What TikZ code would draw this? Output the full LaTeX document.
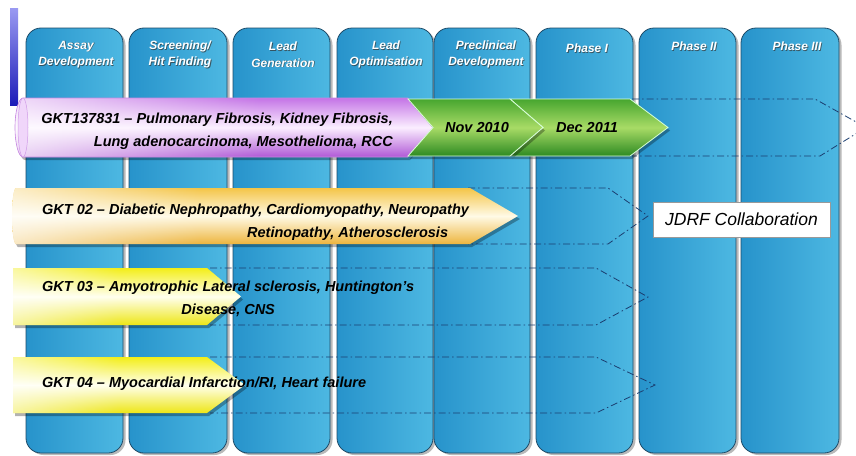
\documentclass[tikz,border=0pt]{standalone}
\usepackage{fontspec}
\setmainfont{Liberation Sans}
\usetikzlibrary{fadings}
\definecolor{colL}{HTML}{2793CB}
\definecolor{colR}{HTML}{4DB8E2}
\definecolor{colEdge}{HTML}{1E4B68}
\definecolor{purTop}{HTML}{C474E6}
\definecolor{purMid}{HTML}{FBEEFF}
\definecolor{purBot}{HTML}{B058D6}
\definecolor{grTop}{HTML}{47A62F}
\definecolor{grMid}{HTML}{A8DB66}
\definecolor{grBot}{HTML}{2D8A22}
\definecolor{orTop}{HTML}{F4C548}
\definecolor{orMid}{HTML}{FFFAE6}
\definecolor{orBot}{HTML}{EDB53E}
\definecolor{ylTop}{HTML}{F3EE18}
\definecolor{ylMid}{HTML}{FFFFEE}
\definecolor{ylBot}{HTML}{EDE616}
\definecolor{dashc}{HTML}{1B3E70}
\definecolor{barTop}{HTML}{9A9AF2}
\definecolor{barBot}{HTML}{1C1CB8}
\tikzfading[name=fadeR, left color=transparent!0, right color=transparent!100]
\tikzset{
  colbox/.style={draw=colEdge, line width=0.8pt, left color=colL, right color=colR, rounded corners=15pt},
  colshadow/.style={fill=black!50, opacity=0.55, rounded corners=15pt},
  hdr/.style={text=white, align=center, inner sep=0pt, font=\bfseries\itshape\fontsize{12}{16.5}\selectfont},
  hdrsh/.style={text=black!80, opacity=0.7, align=center, inner sep=0pt, font=\bfseries\itshape\fontsize{12}{16.5}\selectfont},
  lbl/.style={text=black, inner sep=0pt, font=\bfseries\itshape\fontsize{14.5}{23}\selectfont},
  dashline/.style={draw=dashc, line width=0.8pt, dash pattern=on 7pt off 3pt on 1.5pt off 3pt},
  arrshadow/.style={fill=black, opacity=0.3, shift={(2,3)}},
  whitefade/.style={fill=white, opacity=#1, path fading=fadeR},
}
\def\purplepath{(23,98) -- (408,98) -- (433,127.5) -- (408,157) -- (23,157) arc[start angle=90, end angle=270, x radius=8, y radius=29.5] -- cycle}
\def\greenA{(408,99) -- (510,99) -- (543,127.5) -- (510,156) -- (408,156) -- (433,127.5) -- cycle}
\def\greenB{(510,99) -- (630,99) -- (668,127.5) -- (630,156) -- (510,156) -- (543,127.5) -- cycle}
\def\orangepath{(16,188) -- (470,188) -- (518,216) -- (470,244) -- (16,244) arc[start angle=90, end angle=270, x radius=4, y radius=28] -- cycle}
\def\yelApath{(13,268) -- (207,268) -- (241,296.5) -- (207,325) -- (13,325) -- cycle}
\def\yelBpath{(13,357) -- (207,357) -- (245,385) -- (207,413) -- (13,413) -- cycle}
\begin{document}
\begin{tikzpicture}[x=1pt, y=-1pt]
\useasboundingbox (0,0) rectangle (856,455);
\fill[white] (0,0) rectangle (856,455);
% left bar
\shade[top color=barTop, bottom color=barBot] (10,8) rectangle (18,105);
% columns
\foreach \l/\r in {26/123,129/227,233/330,337/433,434/530,536/633,639/736,741/839} {
  \fill[colshadow] (\l+2.5,30) rectangle (\r+2.5,455);
  \path[colbox] (\l,28) rectangle (\r,453);
}
% headers
\foreach \x/\y/\t/\n in {76/54.5/{Assay\\Development}/a, 180/54.5/{Screening/\\Hit Finding}/b, 283/54.5/{Lead\\Generation}/c, 386/54.5/{Lead\\Optimisation}/d, 486/54.5/{Preclinical\\Development}/e, 587/48/{Phase I}/f, 694/46/{Phase II}/g, 797/46/{Phase III}/h} {
  \node[hdrsh] (hs\n) at (\x+0.8,\y+0.8) {\t};
  \node[hdr] (h\n) at (\x,\y) {\t};
}
% dashed outlines
\begin{scope}
\clip (0,0) rectangle (856,455);
\draw[dashline] (632,99) -- (815,99) -- (866,127.5) -- (820,156) -- (632,156);
\end{scope}
\draw[dashline] (468,188) -- (608,188) -- (648,216) -- (608,244) -- (468,244);
\draw[dashline] (210,268) -- (596,268) -- (648,297) -- (596,325) -- (210,325);
\draw[dashline] (210,357) -- (596,357) -- (655,385) -- (596,413) -- (210,413);
% purple arrow
\fill[arrshadow] \purplepath;
\path[top color=purTop, bottom color=purBot, middle color=purMid] \purplepath;
\begin{scope}
\clip \purplepath;
\fill[whitefade=0.75] (12,95) rectangle (260,160);
\end{scope}
\draw[purBot!70!white, line width=0.6pt] \purplepath;
\draw[purBot!60!white, fill=purMid!80!purTop, line width=0.5pt] (23,127.5) ellipse[x radius=5, y radius=29.5];
% green chevrons
\fill[arrshadow] \greenB;
\path[top color=grTop, bottom color=grBot, middle color=grMid, draw=green!15!white, line width=0.8pt] \greenB;
\fill[arrshadow] \greenA;
\path[top color=grTop, bottom color=grBot, middle color=grMid, draw=green!15!white, line width=0.8pt] \greenA;
% orange arrow
\fill[arrshadow] \orangepath;
\path[top color=orTop, bottom color=orBot, middle color=orMid] \orangepath;
\begin{scope}
\clip \orangepath;
\fill[whitefade=0.7] (10,185) rectangle (200,248);
\end{scope}
% yellow arrows
\fill[arrshadow] \yelApath;
\path[top color=ylTop, bottom color=ylBot, middle color=ylMid] \yelApath;
\begin{scope}
\clip \yelApath;
\fill[whitefade=0.6] (10,265) rectangle (120,328);
\end{scope}
\fill[arrshadow] \yelBpath;
\path[top color=ylTop, bottom color=ylBot, middle color=ylMid] \yelBpath;
\begin{scope}
\clip \yelBpath;
\fill[whitefade=0.6] (10,354) rectangle (120,416);
\end{scope}
% labels
\node[lbl, align=right, anchor=east] (t1) at (393,131.5) {GKT137831 – Pulmonary Fibrosis, Kidney Fibrosis,\\Lung adenocarcinoma, Mesothelioma, RCC};
\node[lbl] (nov) at (477,128) {Nov 2010};
\node[lbl] (dec) at (587,128) {Dec 2011};
\node[lbl, align=left, anchor=west] (t2) at (42,222) {GKT 02 – Diabetic Nephropathy, Cardiomyopathy, Neuropathy\\\hspace*{205pt}Retinopathy, Atherosclerosis};
\node[lbl, align=center, anchor=west] (t3) at (42,298.5) {GKT 03 – Amyotrophic Lateral sclerosis, Huntington’s\\Disease, CNS};
\node[lbl, anchor=west] (t4) at (42,384) {GKT 04 – Myocardial Infarction/RI, Heart failure};
\node[draw=black!40, fill=white, line width=0.6pt, minimum width=177pt, minimum height=35pt, inner sep=0pt, font=\itshape\fontsize{17.5}{20}\selectfont] (jdrf) at (741.5,219.5) {JDRF Collaboration};
\end{tikzpicture}
\end{document}
